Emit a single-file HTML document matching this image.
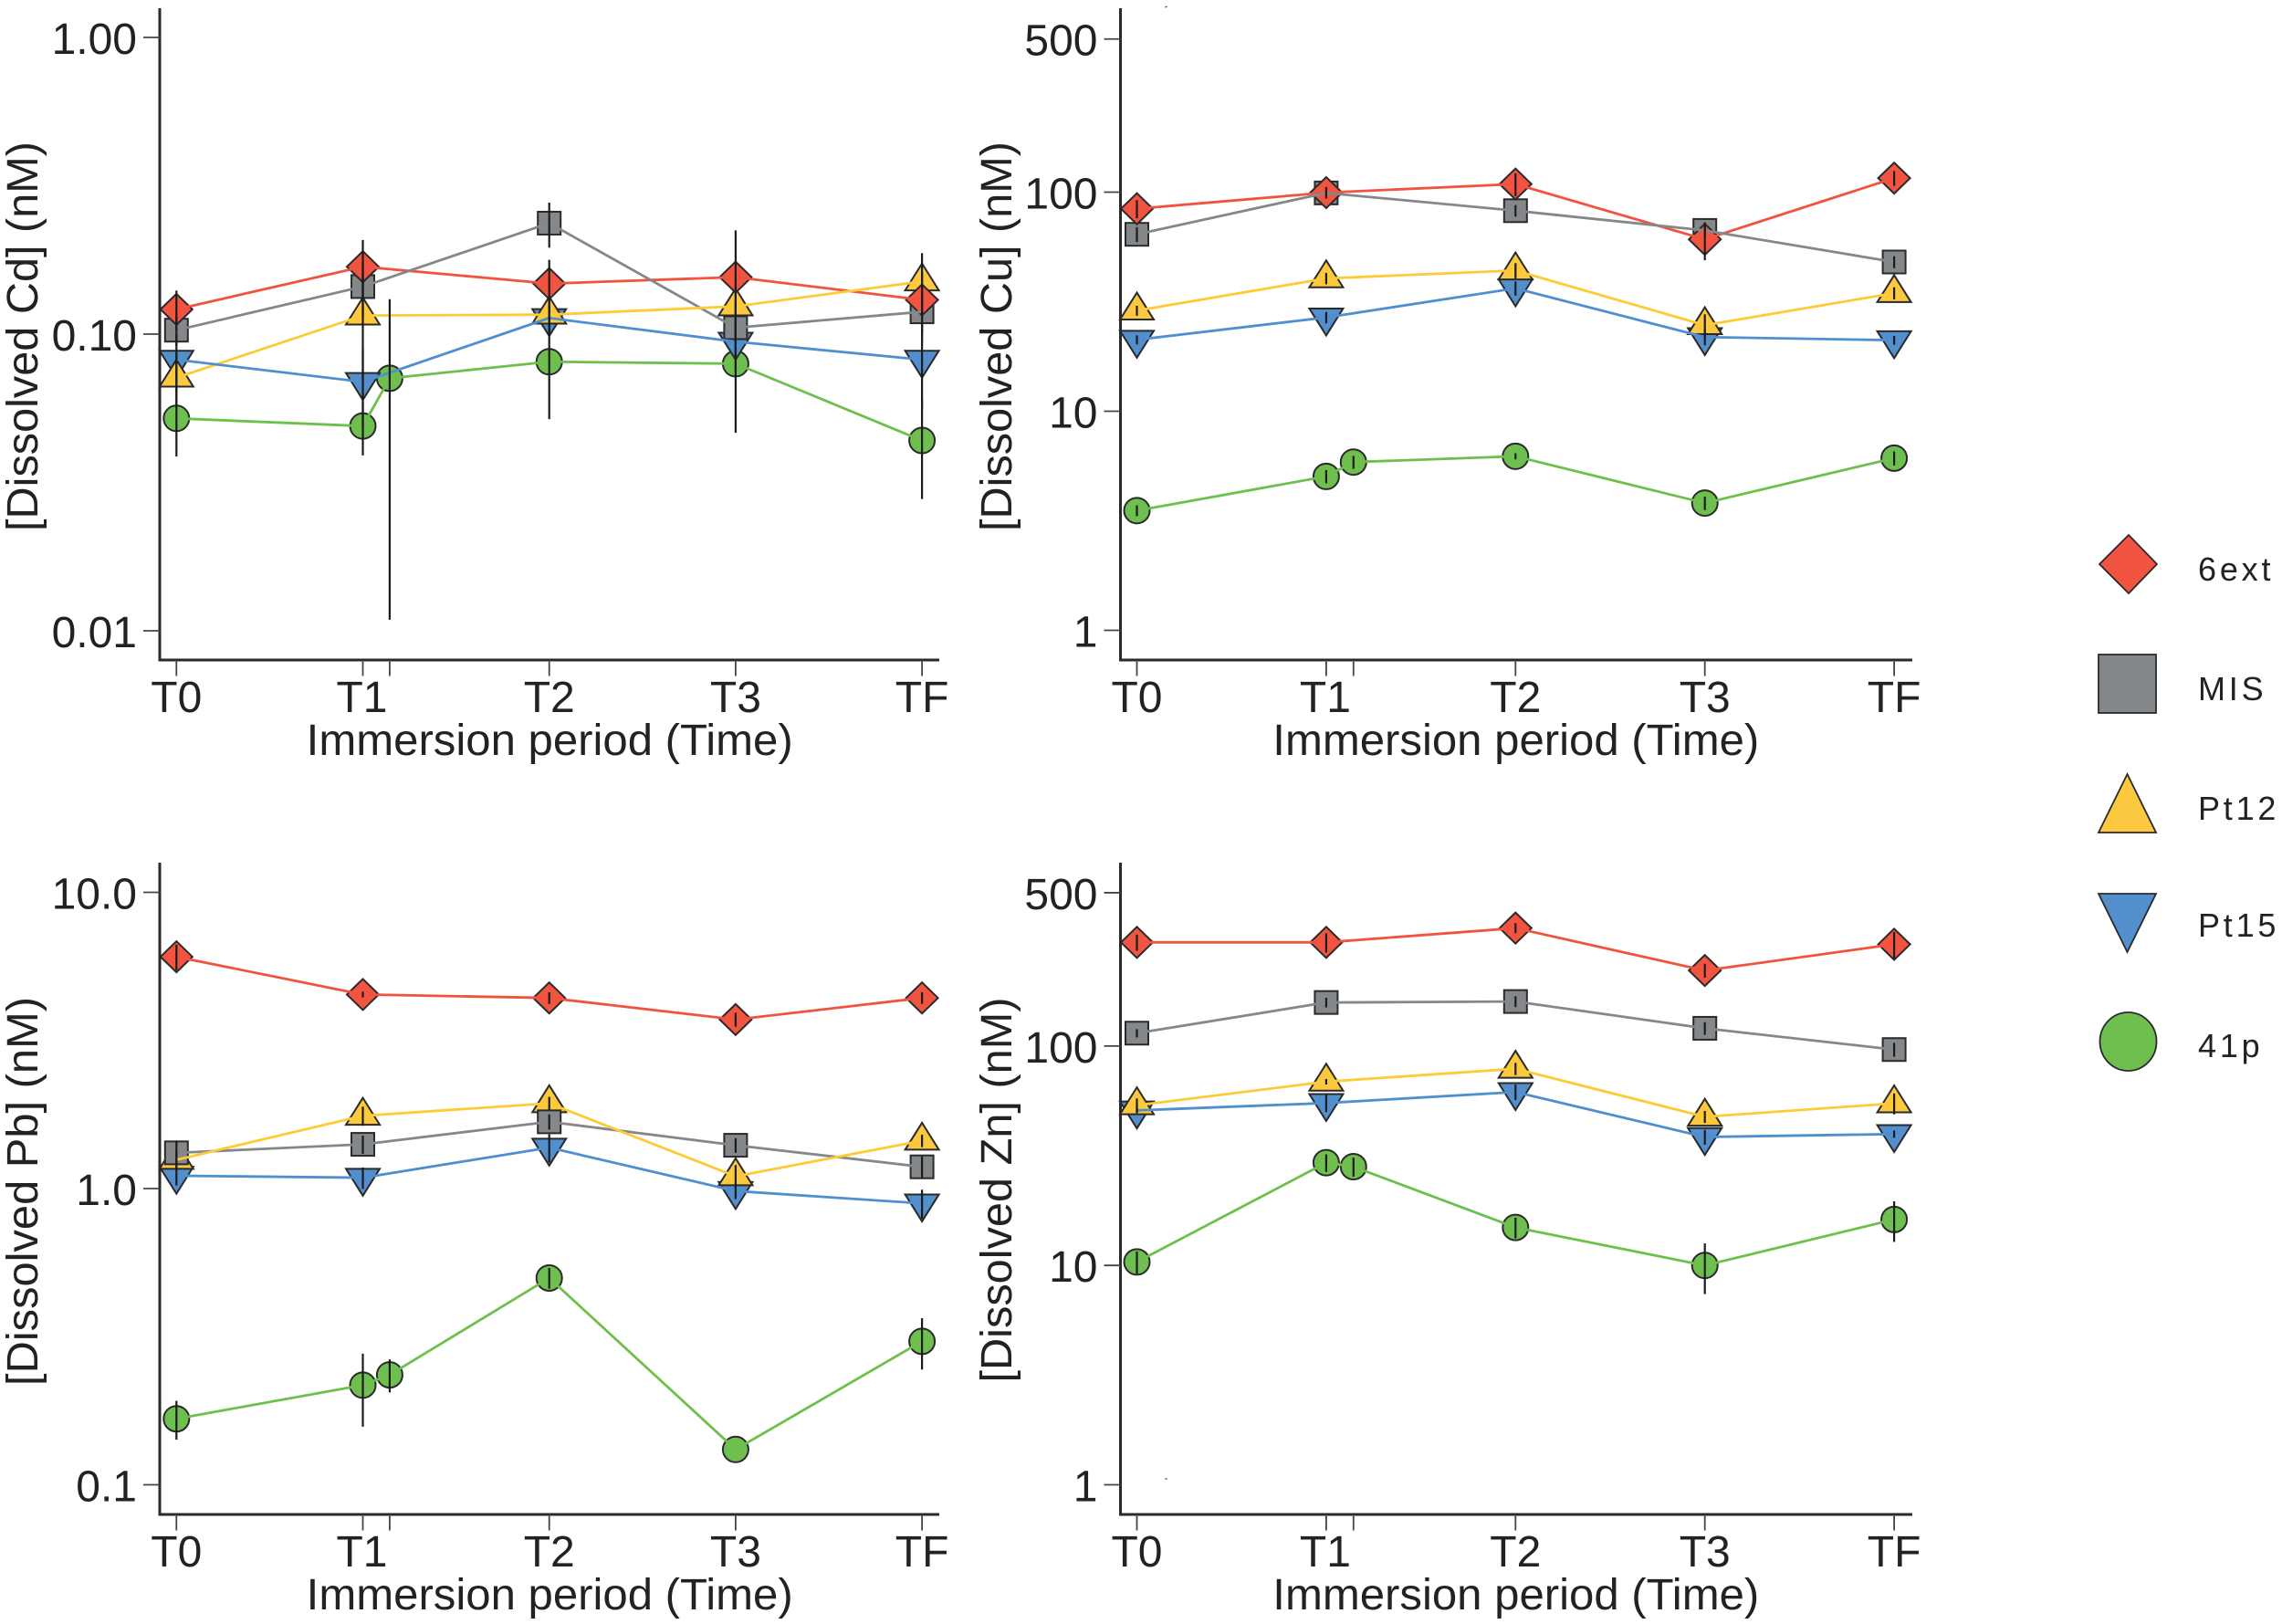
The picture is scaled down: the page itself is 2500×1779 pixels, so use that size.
<!DOCTYPE html>
<html>
<head>
<meta charset="utf-8">
<title>Dissolved metals over immersion period</title>
<style>
html,body{margin:0;padding:0;background:#fff;}
svg{display:block;}
text{font-family:"Liberation Sans",sans-serif;fill:#222;}
</style>
</head>
<body>
<svg id="chart" xmlns="http://www.w3.org/2000/svg" width="2500" height="1779" viewBox="0 0 2500 1779"></svg>
<script>
// ---- categories ----
const timeLabels = ["T0", "T1", "T2", "T3", "TF"];
const timePositions = [0, 1, 2, 3, 4];
const extraTimePositions = [0, 1, 1.144, 2, 3, 4];
const seriesNames = ["6ext", "MIS", "Pt12", "Pt15", "41p"];

// ---- Cd ----
const cdTicks = [1, 0.1, 0.01];
const cdTickLabels = ["1.00", "0.10", "0.01"];
const cdExt = [0.1212, 0.1687, 0.148, 0.1556, 0.1304];
const cdExtSd = [0.019, 0.039, 0.03, 0.068, 0.03];
const cdMis = [0.1031, 0.1446, 0.2366, 0.1051, 0.1189];
const cdMisSd = [0.012, 0.03, 0.041, 0.02, 0.025];
const cdPt12 = [0.0713, 0.1155, 0.1163, 0.124, 0.1505];
const cdPt12Sd = [0.015, 0.045, 0.015, 0.025, 0.037];
const cdPt15 = [0.082, 0.069, 0.1133, 0.0943, 0.082];
const cdPt15Sd = [0.018, 0.02, 0.012, 0.02, 0.026];
const cd41p = [0.052, 0.049, 0.071, 0.0807, 0.0795, 0.0438];
const cd41pSd = [0.0133, 0.01, 0.0601, 0.029, 0.033, 0.016];

// ---- Cu ----
const cuTicks = [500, 100, 10, 1];
const cuTickLabels = ["500", "100", "10", "1"];
const cuExt = [84, 99.5, 108.9, 60.9, 115.9];
const cuExtSd = [8, 6, 13, 12, 9];
const cuMis = [64.2, 99.2, 82.3, 66.9, 48];
const cuMisSd = [5, 3, 5, 4, 3];
const cuPt12 = [28.8, 40.4, 43.9, 24.7, 34.6];
const cuPt12Sd = [1.5, 2.4, 3.5, 3, 2.2];
const cuPt15 = [21.2, 26.8, 36.4, 21.8, 21.1];
const cuPt15Sd = [1, 1.6, 2.7, 1.8, 1];
const cu41p = [3.52, 5.04, 5.86, 6.23, 3.81, 6.11];
const cu41pSd = [0.2, 0.35, 0.4, 0.2, 0.27, 0.45];

// ---- Pb ----
const pbTicks = [10, 1, 0.1];
const pbTickLabels = ["10.0", "1.0", "0.1"];
const pbExt = [6.06, 4.52, 4.4, 3.72, 4.4];
const pbExtSd = [0.6, 0.1, 0.2, 0.2, 0.2];
const pbMis = [1.32, 1.41, 1.68, 1.4, 1.184];
const pbMisSd = [0.13, 0.1, 0.1, 0.08, 0.1];
const pbPt12 = [1.25, 1.76, 1.94, 1.1, 1.45];
const pbPt12Sd = [0.09, 0.13, 0.1, 0.1, 0.07];
const pbPt15 = [1.105, 1.088, 1.375, 0.981, 0.891];
const pbPt15Sd = [0.08, 0.09, 0.15, 0.06, 0.1];
const pb41p = [0.167, 0.217, 0.235, 0.499, 0.1316, 0.305];
const pb41pSd = [0.025, 0.06, 0.03, 0.04, 0, 0.06];

// ---- Zn ----
const znTicks = [500, 100, 10, 1];
const znTickLabels = ["500", "100", "10", "1"];
const znExt = [297, 297, 345, 221, 291];
const znExtSd = [25, 30, 18, 16, 40];
const znMis = [114.5, 158, 159.6, 120.5, 96.4];
const znMisSd = [5, 8, 9, 8, 7];
const znPt12 = [53.7, 68.8, 78.8, 47.6, 54.8];
const znPt12Sd = [4, 2, 5, 3, 6];
const znPt15 = [50.9, 55, 61.7, 38.5, 39.7];
const znPt15Sd = [1.5, 5, 5, 3, 1.5];
const zn41p = [10.37, 29.4, 28.2, 14.9, 10, 16.2];
const zn41pSd = [1.2, 2.7, 2.8, 1.6, 2.6, 3.4];

const NS = "http://www.w3.org/2000/svg";
const root = document.getElementById("chart");
const DARK = "#2a2a2a";
const markerFill = {"6ext":"#F15441","MIS":"#85888A","Pt12":"#FBC83F","Pt15":"#538FCC","41p":"#6FBE50"};
const lineColor = {"6ext":"#F2533F","MIS":"#85888A","Pt12":"#FDCB35","Pt15":"#4F8FD0","41p":"#6EC04C"};

function make(parent, tag, attrs) {
  const el = document.createElementNS(NS, tag);
  for (const k in attrs) el.setAttribute(k, attrs[k]);
  parent.appendChild(el);
  return el;
}

function drawMarker(parent, name, cx, cy, s) {
  let el;
  const style = {fill: markerFill[name], stroke: DARK, "stroke-width": 2, "stroke-linejoin": "miter"};
  if (name === "6ext") {
    const hw = 17.5 * s, hh = 17 * s;
    el = make(parent, "polygon", Object.assign({points: `${cx-hw},${cy} ${cx},${cy-hh} ${cx+hw},${cy} ${cx},${cy+hh}`}, style));
  } else if (name === "MIS") {
    const h = 12.5 * s;
    el = make(parent, "rect", Object.assign({x: cx-h, y: cy-h, width: 2*h, height: 2*h}, style));
  } else if (name === "Pt12") {
    const hw = 18.5 * s, up = 19.7 * s, dn = 9.8 * s;
    el = make(parent, "polygon", Object.assign({points: `${cx-hw},${cy+dn} ${cx},${cy-up} ${cx+hw},${cy+dn}`}, style));
  } else if (name === "Pt15") {
    const hw = 18.5 * s, up = 9.8 * s, dn = 19.7 * s;
    el = make(parent, "polygon", Object.assign({points: `${cx-hw},${cy-up} ${cx+hw},${cy-up} ${cx},${cy+dn}`}, style));
  } else {
    el = make(parent, "circle", Object.assign({cx: cx, cy: cy, r: 14 * s}, style));
  }
  return el;
}

function drawPanel(cfg) {
  const g = make(root, "g", {});
  
  

  const xScale = t => cfg.x0 + 204.2 * t + cfg.dx * t;
  const yScale = v => cfg.yOne - cfg.decade * Math.log10(v / cfg.refValue);

  // axes
  const yAxis = make(g, "line", {x1: cfg.axisX, x2: cfg.axisX, y1: cfg.axisTop, y2: cfg.axisBottom + 1.5, stroke: DARK, "stroke-width": 3});
  
  
  const xAxis = make(g, "line", {x1: cfg.axisX, x2: cfg.axisRight, y1: cfg.axisBottom, y2: cfg.axisBottom, stroke: DARK, "stroke-width": 3});
  
  

  cfg.ticks.forEach((v, i) => {
    const y = yScale(v);
    const tick = make(g, "line", {x1: cfg.axisX - 18, x2: cfg.axisX, y1: y, y2: y, stroke: "#444", "stroke-width": 1.8});
    
    
    const lab = make(g, "text", {x: cfg.axisX - 25, y: y + 18, "font-size": 48, "text-anchor": "end"});
    lab.textContent = cfg.tickLabels[i];
    
    
  });

  extraTimePositions.forEach(t => {
    const x = xScale(t);
    const tick = make(g, "line", {x1: x, x2: x, y1: cfg.axisBottom, y2: cfg.axisBottom + 17.5, stroke: "#444", "stroke-width": 1.8});
    
    
  });

  timeLabels.forEach((label, i) => {
    const lab = make(g, "text", {x: xScale(timePositions[i]) - (label === "T1" ? 1 : 0), y: cfg.axisBottom + 57, "font-size": 48, "text-anchor": "middle"});
    lab.textContent = label;
    
    
  });

  const xTitle = make(g, "text", {x: xScale(2) + 0.5, y: cfg.axisBottom + 104, "font-size": 48, "text-anchor": "middle", textLength: 533, lengthAdjust: "spacingAndGlyphs"});
  xTitle.textContent = "Immersion period (Time)";
  
  

  const yTitle = make(g, "text", {transform: `translate(${cfg.titleX},${cfg.titleY}) rotate(-90)`, "font-size": 48, "text-anchor": "middle", textLength: cfg.titleLen, lengthAdjust: "spacingAndGlyphs"});
  yTitle.textContent = cfg.title;
  
  

  // markers first, connecting lines run over them
  ["41p", "Pt15", "Pt12", "MIS", "6ext"].forEach(name => {
    const s = cfg.series[name];
    s.values.forEach((v, i) => {
      const m = drawMarker(g, name, xScale(s.times[i]), yScale(v), 1);
      
      
    });
  });

  seriesNames.forEach(name => {
    const s = cfg.series[name];
    const pts = s.values.map((v, i) => xScale(s.times[i]) + "," + yScale(v)).join(" ");
    const line = make(g, "polyline", {points: pts, fill: "none", stroke: lineColor[name], "stroke-width": 2.8, "stroke-linejoin": "round"});
    
    
  });

  // error bars on top
  seriesNames.forEach(name => {
    const s = cfg.series[name];
    s.values.forEach((v, i) => {
      if (s.sd[i] <= 0) return;
      const x = xScale(s.times[i]);
      const lo = Math.max(v - s.sd[i], v * 0.05);
      const hi = v + s.sd[i];
      const bar = make(g, "line", {x1: x, x2: x, y1: yScale(hi), y2: yScale(lo), stroke: "#1c1c1c", "stroke-width": 2.2});
      
      
    });
  });
}

function seriesSet(ext, extSd, mis, misSd, p12, p12Sd, p15, p15Sd, p41, p41Sd) {
  return {
    "6ext": {values: ext, sd: extSd, times: timePositions},
    "MIS": {values: mis, sd: misSd, times: timePositions},
    "Pt12": {values: p12, sd: p12Sd, times: timePositions},
    "Pt15": {values: p15, sd: p15Sd, times: timePositions},
    "41p": {values: p41, sd: p41Sd, times: extraTimePositions}
  };
}

drawPanel({id: "cadmium", title: "[Dissolved Cd] (nM)", titleX: 41, titleY: 368.5, titleLen: 427,
  x0: 193.3, dx: 0, axisX: 175, axisRight: 1029, axisTop: 9, axisBottom: 723,
  yOne: 41, refValue: 1, decade: 325, ticks: cdTicks, tickLabels: cdTickLabels,
  series: seriesSet(cdExt, cdExtSd, cdMis, cdMisSd, cdPt12, cdPt12Sd, cdPt15, cdPt15Sd, cd41p, cd41pSd)});

drawPanel({id: "copper", title: "[Dissolved Cu] (nM)", titleX: 1108, titleY: 368.5, titleLen: 427,
  x0: 1245.5, dx: 3.2, axisX: 1227.5, axisRight: 2095, axisTop: 9, axisBottom: 723,
  yOne: 690.5, refValue: 1, decade: 240, ticks: cuTicks, tickLabels: cuTickLabels,
  series: seriesSet(cuExt, cuExtSd, cuMis, cuMisSd, cuPt12, cuPt12Sd, cuPt15, cuPt15Sd, cu41p, cu41pSd)});

drawPanel({id: "lead", title: "[Dissolved Pb] (nM)", titleX: 41, titleY: 1305, titleLen: 426,
  x0: 193.3, dx: 0, axisX: 175, axisRight: 1029, axisTop: 945, axisBottom: 1659,
  yOne: 1302, refValue: 1, decade: 324.5, ticks: pbTicks, tickLabels: pbTickLabels,
  series: seriesSet(pbExt, pbExtSd, pbMis, pbMisSd, pbPt12, pbPt12Sd, pbPt15, pbPt15Sd, pb41p, pb41pSd)});

drawPanel({id: "zinc", title: "[Dissolved Zn] (nM)", titleX: 1108, titleY: 1303.5, titleLen: 422,
  x0: 1245.5, dx: 3.2, axisX: 1227.5, axisRight: 2095, axisTop: 945, axisBottom: 1659,
  yOne: 1626.5, refValue: 1, decade: 240.3, ticks: znTicks, tickLabels: znTickLabels,
  series: seriesSet(znExt, znExtSd, znMis, znMisSd, znPt12, znPt12Sd, znPt15, znPt15Sd, zn41p, zn41pSd)});

// stray specks present in the figure
const speckA = make(root, "line", {x1: 1276, y1: 8, x2: 1279, y2: 7, stroke: "#777", "stroke-width": 1.2});


const speckB = make(root, "line", {x1: 1276, y1: 1619.5, x2: 1279, y2: 1620.5, stroke: "#777", "stroke-width": 1.2});



// legend
const legend = make(root, "g", {});


const legendRows = [618, 749, 880, 1011, 1141];
const legendBaselines = [636, 767, 898, 1026, 1158];
seriesNames.forEach((name, i) => {
  const entry = make(legend, "g", {});
  
  
  const cy = legendRows[i];
  let shape;
  if (name === "6ext") {
    shape = make(entry, "polygon", {points: `2300,${cy} 2332,${cy-32} 2363,${cy} 2332,${cy+32}`, fill: markerFill[name], stroke: DARK, "stroke-width": 1.8});
  } else if (name === "MIS") {
    shape = make(entry, "rect", {x: 2299, y: cy-32, width: 63, height: 64, fill: markerFill[name], stroke: DARK, "stroke-width": 1.8});
  } else if (name === "Pt12") {
    shape = make(entry, "polygon", {points: `2299,${cy+32} 2330.5,${cy-32} 2362,${cy+32}`, fill: markerFill[name], stroke: DARK, "stroke-width": 1.8});
  } else if (name === "Pt15") {
    shape = make(entry, "polygon", {points: `2299,${cy-32} 2362,${cy-32} 2330.5,${cy+32}`, fill: markerFill[name], stroke: DARK, "stroke-width": 1.8});
  } else {
    shape = make(entry, "ellipse", {cx: 2331.5, cy: cy, rx: 31, ry: 32, fill: markerFill[name], stroke: DARK, "stroke-width": 1.8});
  }
  
  
  const label = make(entry, "text", {x: 2408, y: legendBaselines[i], "font-size": 36, "letter-spacing": 3.8});
  label.textContent = name;
  
  
});
</script>
</body>
</html>
